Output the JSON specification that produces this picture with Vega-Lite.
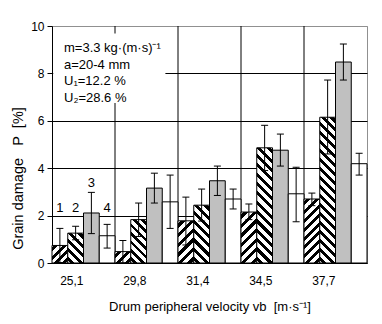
{
  "$schema": "https://vega.github.io/schema/vega-lite/v6.json",
  "width": 315,
  "height": 237,
  "autosize": {"type": "none"},
  "padding": {"left": 52, "top": 26, "right": 15, "bottom": 61},
  "background": "white",
  "config": {
    "view": {"stroke": "#909090", "strokeWidth": 1},
    "font": "Liberation Sans",
    "axis": {
      "labelFont": "Liberation Sans", "titleFont": "Liberation Sans",
      "labelColor": "black", "titleColor": "black", "titleFontWeight": "normal",
      "domainColor": "black", "tickColor": "black", "gridColor": "black", "gridOpacity": 1,
      "labelFontSize": 12, "titleFontSize": 13
    }
  },
  "datasets": {
    "bars": [
      {"c": "25,1", "s": "1", "v": 0.74, "lo": 0.02, "hi": 1.46},
      {"c": "25,1", "s": "2", "v": 1.26, "lo": 0.98, "hi": 1.55},
      {"c": "25,1", "s": "3", "v": 2.11, "lo": 1.24, "hi": 2.98},
      {"c": "25,1", "s": "4", "v": 1.15, "lo": 0.63, "hi": 1.63},
      {"c": "29,8", "s": "1", "v": 0.48, "lo": 0.01, "hi": 0.95},
      {"c": "29,8", "s": "2", "v": 1.83, "lo": 1.12, "hi": 2.53},
      {"c": "29,8", "s": "3", "v": 3.16, "lo": 2.53, "hi": 3.79},
      {"c": "29,8", "s": "4", "v": 2.58, "lo": 1.46, "hi": 3.71},
      {"c": "31,4", "s": "1", "v": 1.78, "lo": 0.76, "hi": 2.78},
      {"c": "31,4", "s": "2", "v": 2.44, "lo": 1.77, "hi": 3.12},
      {"c": "31,4", "s": "3", "v": 3.47, "lo": 2.85, "hi": 4.09},
      {"c": "31,4", "s": "4", "v": 2.70, "lo": 2.28, "hi": 3.12},
      {"c": "34,5", "s": "1", "v": 2.15, "lo": 1.83, "hi": 2.49},
      {"c": "34,5", "s": "2", "v": 4.86, "lo": 3.90, "hi": 5.81},
      {"c": "34,5", "s": "3", "v": 4.76, "lo": 4.09, "hi": 5.44},
      {"c": "34,5", "s": "4", "v": 2.92, "lo": 1.74, "hi": 4.04},
      {"c": "37,7", "s": "1", "v": 2.70, "lo": 2.42, "hi": 2.95},
      {"c": "37,7", "s": "2", "v": 6.15, "lo": 4.60, "hi": 7.72},
      {"c": "37,7", "s": "3", "v": 8.48, "lo": 7.72, "hi": 9.24},
      {"c": "37,7", "s": "4", "v": 4.19, "lo": 3.71, "hi": 4.63}
    ],
    "labs": [
      {"c": "25,1", "s": "1", "t": "1"},
      {"c": "25,1", "s": "2", "t": "2"},
      {"c": "25,1", "s": "4", "t": "4"}
    ],
    "lab3": [
      {"c": "25,1", "s": "3", "t": "3"}
    ],
    "bounds": [
      {"c": "29,8"}, {"c": "31,4"}, {"c": "34,5"}, {"c": "37,7"}
    ]
  },
  "layer": [
    {
      "data": {"name": "bounds"},
      "mark": {"type": "rule", "color": "black", "strokeWidth": 1},
      "encoding": {
        "x": {"field": "c", "type": "nominal", "bandPosition": 0}
      }
    },
    {
      "data": {"values": [{}]},
      "mark": {"type": "rect", "fill": "white"},
      "encoding": {
        "x": {"datum": "25,1", "type": "nominal", "bandPosition": 0.02},
        "x2": {"datum": "29,8", "bandPosition": 0.8},
        "y": {"datum": 9.68, "type": "quantitative"},
        "y2": {"datum": 6.75}
      }
    },
    {
      "data": {"name": "bars"},
      "mark": {"type": "bar", "stroke": "black", "strokeWidth": 1},
      "encoding": {
        "x": {
          "field": "c", "type": "nominal",
          "scale": {"paddingInner": 0, "paddingOuter": 0},
          "title": "Drum peripheral velocity vb\u00a0\u00a0[m·s⁻¹]",
          "axis": {"ticks": false, "labelAngle": 0, "labelPadding": 17, "titlePadding": 14, "grid": false, "domainColor": "black"}
        },
        "xOffset": {"field": "s", "type": "nominal", "scale": {"paddingInner": 0, "paddingOuter": 0}},
        "y": {
          "field": "v", "type": "quantitative",
          "scale": {"domain": [0, 10], "nice": false},
          "title": "Grain damage\u00a0\u00a0\u00a0P\u00a0\u00a0[%]",
          "axis": {
            "values": [0, 2, 4, 6, 8, 10], "grid": true,
            "gridColor": {"condition": {"test": "datum.value === 10", "value": "#909090"}, "value": "black"},
            "tickSize": 5, "labelPadding": 3, "titlePadding": 5, "titleY": 152, "titleFontSize": 14.5
          }
        },
        "fill": {
          "condition": [
            {"test": "datum.s === '1' && datum.c === '25,1'", "value": {"gradient": "linear", "x1": 0, "y1": 0, "x2": 0.9448, "y2": 1.0498, "stops": [
              {"offset": 0, "color": "#fff"},
              {"offset": 0.075, "color": "#fff"}, {"offset": 0.075, "color": "#000"}, {"offset": 0.1875, "color": "#000"}, {"offset": 0.1875, "color": "#fff"},
              {"offset": 0.325, "color": "#fff"}, {"offset": 0.325, "color": "#000"}, {"offset": 0.4375, "color": "#000"}, {"offset": 0.4375, "color": "#fff"},
              {"offset": 0.575, "color": "#fff"}, {"offset": 0.575, "color": "#000"}, {"offset": 0.6875, "color": "#000"}, {"offset": 0.6875, "color": "#fff"},
              {"offset": 0.825, "color": "#fff"}, {"offset": 0.825, "color": "#000"}, {"offset": 0.9375, "color": "#000"}, {"offset": 0.9375, "color": "#fff"},
              {"offset": 1, "color": "#fff"}]}},
            {"test": "datum.s === '1' && datum.c === '29,8'", "value": {"gradient": "linear", "x1": 0, "y1": 0, "x2": 1.1316, "y2": 0.8176, "stops": [
              {"offset": 0, "color": "#fff"},
              {"offset": 0.1, "color": "#fff"}, {"offset": 0.1, "color": "#000"}, {"offset": 0.25, "color": "#000"}, {"offset": 0.25, "color": "#fff"},
              {"offset": 0.4333, "color": "#fff"}, {"offset": 0.4333, "color": "#000"}, {"offset": 0.5833, "color": "#000"}, {"offset": 0.5833, "color": "#fff"},
              {"offset": 0.7667, "color": "#fff"}, {"offset": 0.7667, "color": "#000"}, {"offset": 0.9167, "color": "#000"}, {"offset": 0.9167, "color": "#fff"},
              {"offset": 1, "color": "#fff"}]}},
            {"test": "datum.s === '1' && datum.c === '31,4'", "value": {"gradient": "linear", "x1": 0, "y1": 0, "x2": 0.450, "y2": 1.2054, "stops": [
              {"offset": 0, "color": "#fff"},
              {"offset": 0.05, "color": "#fff"}, {"offset": 0.05, "color": "#000"}, {"offset": 0.125, "color": "#000"}, {"offset": 0.125, "color": "#fff"},
              {"offset": 0.2167, "color": "#fff"}, {"offset": 0.2167, "color": "#000"}, {"offset": 0.2917, "color": "#000"}, {"offset": 0.2917, "color": "#fff"},
              {"offset": 0.3833, "color": "#fff"}, {"offset": 0.3833, "color": "#000"}, {"offset": 0.4583, "color": "#000"}, {"offset": 0.4583, "color": "#fff"},
              {"offset": 0.55, "color": "#fff"}, {"offset": 0.55, "color": "#000"}, {"offset": 0.625, "color": "#000"}, {"offset": 0.625, "color": "#fff"},
              {"offset": 0.7167, "color": "#fff"}, {"offset": 0.7167, "color": "#000"}, {"offset": 0.7917, "color": "#000"}, {"offset": 0.7917, "color": "#fff"},
              {"offset": 0.8833, "color": "#fff"}, {"offset": 0.8833, "color": "#000"}, {"offset": 0.9583, "color": "#000"}, {"offset": 0.9583, "color": "#fff"},
              {"offset": 1, "color": "#fff"}]}},
            {"test": "datum.s === '1' && datum.c === '34,5'", "value": {"gradient": "linear", "x1": 0, "y1": 0, "x2": 0.3693, "y2": 1.1949, "stops": [
              {"offset": 0, "color": "#fff"},
              {"offset": 0.0429, "color": "#fff"}, {"offset": 0.0429, "color": "#000"}, {"offset": 0.1071, "color": "#000"}, {"offset": 0.1071, "color": "#fff"},
              {"offset": 0.1857, "color": "#fff"}, {"offset": 0.1857, "color": "#000"}, {"offset": 0.25, "color": "#000"}, {"offset": 0.25, "color": "#fff"},
              {"offset": 0.3286, "color": "#fff"}, {"offset": 0.3286, "color": "#000"}, {"offset": 0.3929, "color": "#000"}, {"offset": 0.3929, "color": "#fff"},
              {"offset": 0.4714, "color": "#fff"}, {"offset": 0.4714, "color": "#000"}, {"offset": 0.5357, "color": "#000"}, {"offset": 0.5357, "color": "#fff"},
              {"offset": 0.6143, "color": "#fff"}, {"offset": 0.6143, "color": "#000"}, {"offset": 0.6786, "color": "#000"}, {"offset": 0.6786, "color": "#fff"},
              {"offset": 0.7571, "color": "#fff"}, {"offset": 0.7571, "color": "#000"}, {"offset": 0.8214, "color": "#000"}, {"offset": 0.8214, "color": "#fff"},
              {"offset": 0.9, "color": "#fff"}, {"offset": 0.9, "color": "#000"}, {"offset": 0.9643, "color": "#000"}, {"offset": 0.9643, "color": "#fff"},
              {"offset": 1, "color": "#fff"}]}},
            {"test": "datum.s === '1' && datum.c === '37,7'", "value": {"gradient": "linear", "x1": 0, "y1": 0, "x2": 0.2892, "y2": 1.1749, "stops": [
              {"offset": 0, "color": "#fff"},
              {"offset": 0.0333, "color": "#fff"}, {"offset": 0.0333, "color": "#000"}, {"offset": 0.0833, "color": "#000"}, {"offset": 0.0833, "color": "#fff"},
              {"offset": 0.1444, "color": "#fff"}, {"offset": 0.1444, "color": "#000"}, {"offset": 0.1944, "color": "#000"}, {"offset": 0.1944, "color": "#fff"},
              {"offset": 0.2556, "color": "#fff"}, {"offset": 0.2556, "color": "#000"}, {"offset": 0.3056, "color": "#000"}, {"offset": 0.3056, "color": "#fff"},
              {"offset": 0.3667, "color": "#fff"}, {"offset": 0.3667, "color": "#000"}, {"offset": 0.4167, "color": "#000"}, {"offset": 0.4167, "color": "#fff"},
              {"offset": 0.4778, "color": "#fff"}, {"offset": 0.4778, "color": "#000"}, {"offset": 0.5278, "color": "#000"}, {"offset": 0.5278, "color": "#fff"},
              {"offset": 0.5889, "color": "#fff"}, {"offset": 0.5889, "color": "#000"}, {"offset": 0.6389, "color": "#000"}, {"offset": 0.6389, "color": "#fff"},
              {"offset": 0.7, "color": "#fff"}, {"offset": 0.7, "color": "#000"}, {"offset": 0.75, "color": "#000"}, {"offset": 0.75, "color": "#fff"},
              {"offset": 0.8111, "color": "#fff"}, {"offset": 0.8111, "color": "#000"}, {"offset": 0.8611, "color": "#000"}, {"offset": 0.8611, "color": "#fff"},
              {"offset": 0.9222, "color": "#fff"}, {"offset": 0.9222, "color": "#000"}, {"offset": 0.9722, "color": "#000"}, {"offset": 0.9722, "color": "#fff"},
              {"offset": 1, "color": "#fff"}]}},
            {"test": "datum.s === '2' && datum.c === '25,1'", "value": {"gradient": "linear", "x1": 0, "y1": 1, "x2": 0.6303, "y2": -0.195, "stops": [
              {"offset": 0, "color": "#fff"},
              {"offset": 0.06, "color": "#fff"}, {"offset": 0.06, "color": "#000"}, {"offset": 0.15, "color": "#000"}, {"offset": 0.15, "color": "#fff"},
              {"offset": 0.26, "color": "#fff"}, {"offset": 0.26, "color": "#000"}, {"offset": 0.35, "color": "#000"}, {"offset": 0.35, "color": "#fff"},
              {"offset": 0.46, "color": "#fff"}, {"offset": 0.46, "color": "#000"}, {"offset": 0.55, "color": "#000"}, {"offset": 0.55, "color": "#fff"},
              {"offset": 0.66, "color": "#fff"}, {"offset": 0.66, "color": "#000"}, {"offset": 0.75, "color": "#000"}, {"offset": 0.75, "color": "#fff"},
              {"offset": 0.86, "color": "#fff"}, {"offset": 0.86, "color": "#000"}, {"offset": 0.95, "color": "#000"}, {"offset": 0.95, "color": "#fff"},
              {"offset": 1, "color": "#fff"}]}},
            {"test": "datum.s === '2' && datum.c === '29,8'", "value": {"gradient": "linear", "x1": 0, "y1": 1, "x2": 0.4373, "y2": -0.2044, "stops": [
              {"offset": 0, "color": "#fff"},
              {"offset": 0.0429, "color": "#fff"}, {"offset": 0.0429, "color": "#000"}, {"offset": 0.1071, "color": "#000"}, {"offset": 0.1071, "color": "#fff"},
              {"offset": 0.1857, "color": "#fff"}, {"offset": 0.1857, "color": "#000"}, {"offset": 0.25, "color": "#000"}, {"offset": 0.25, "color": "#fff"},
              {"offset": 0.3286, "color": "#fff"}, {"offset": 0.3286, "color": "#000"}, {"offset": 0.3929, "color": "#000"}, {"offset": 0.3929, "color": "#fff"},
              {"offset": 0.4714, "color": "#fff"}, {"offset": 0.4714, "color": "#000"}, {"offset": 0.5357, "color": "#000"}, {"offset": 0.5357, "color": "#fff"},
              {"offset": 0.6143, "color": "#fff"}, {"offset": 0.6143, "color": "#000"}, {"offset": 0.6786, "color": "#000"}, {"offset": 0.6786, "color": "#fff"},
              {"offset": 0.7571, "color": "#fff"}, {"offset": 0.7571, "color": "#000"}, {"offset": 0.8214, "color": "#000"}, {"offset": 0.8214, "color": "#fff"},
              {"offset": 0.9, "color": "#fff"}, {"offset": 0.9, "color": "#000"}, {"offset": 0.9643, "color": "#000"}, {"offset": 0.9643, "color": "#fff"},
              {"offset": 1, "color": "#fff"}]}},
            {"test": "datum.s === '2' && datum.c === '31,4'", "value": {"gradient": "linear", "x1": 0, "y1": 1, "x2": 0.3226, "y2": -0.1846, "stops": [
              {"offset": 0, "color": "#fff"},
              {"offset": 0.0375, "color": "#fff"}, {"offset": 0.0375, "color": "#000"}, {"offset": 0.0938, "color": "#000"}, {"offset": 0.0938, "color": "#fff"},
              {"offset": 0.1625, "color": "#fff"}, {"offset": 0.1625, "color": "#000"}, {"offset": 0.2188, "color": "#000"}, {"offset": 0.2188, "color": "#fff"},
              {"offset": 0.2875, "color": "#fff"}, {"offset": 0.2875, "color": "#000"}, {"offset": 0.3438, "color": "#000"}, {"offset": 0.3438, "color": "#fff"},
              {"offset": 0.4125, "color": "#fff"}, {"offset": 0.4125, "color": "#000"}, {"offset": 0.4688, "color": "#000"}, {"offset": 0.4688, "color": "#fff"},
              {"offset": 0.5375, "color": "#fff"}, {"offset": 0.5375, "color": "#000"}, {"offset": 0.5938, "color": "#000"}, {"offset": 0.5938, "color": "#fff"},
              {"offset": 0.6625, "color": "#fff"}, {"offset": 0.6625, "color": "#000"}, {"offset": 0.7188, "color": "#000"}, {"offset": 0.7188, "color": "#fff"},
              {"offset": 0.7875, "color": "#fff"}, {"offset": 0.7875, "color": "#000"}, {"offset": 0.8438, "color": "#000"}, {"offset": 0.8438, "color": "#fff"},
              {"offset": 0.9125, "color": "#fff"}, {"offset": 0.9125, "color": "#000"}, {"offset": 0.9688, "color": "#000"}, {"offset": 0.9688, "color": "#fff"},
              {"offset": 1, "color": "#fff"}]}},
            {"test": "datum.s === '2' && datum.c === '34,5'", "value": {"gradient": "linear", "x1": 0, "y1": 1, "x2": 0.1526, "y2": -0.1159, "stops": [
              {"offset": 0, "color": "#fff"},
              {"offset": 0.0214, "color": "#fff"}, {"offset": 0.0214, "color": "#000"}, {"offset": 0.0536, "color": "#000"}, {"offset": 0.0536, "color": "#fff"},
              {"offset": 0.0929, "color": "#fff"}, {"offset": 0.0929, "color": "#000"}, {"offset": 0.125, "color": "#000"}, {"offset": 0.125, "color": "#fff"},
              {"offset": 0.1643, "color": "#fff"}, {"offset": 0.1643, "color": "#000"}, {"offset": 0.1964, "color": "#000"}, {"offset": 0.1964, "color": "#fff"},
              {"offset": 0.2357, "color": "#fff"}, {"offset": 0.2357, "color": "#000"}, {"offset": 0.2679, "color": "#000"}, {"offset": 0.2679, "color": "#fff"},
              {"offset": 0.3071, "color": "#fff"}, {"offset": 0.3071, "color": "#000"}, {"offset": 0.3393, "color": "#000"}, {"offset": 0.3393, "color": "#fff"},
              {"offset": 0.3786, "color": "#fff"}, {"offset": 0.3786, "color": "#000"}, {"offset": 0.4107, "color": "#000"}, {"offset": 0.4107, "color": "#fff"},
              {"offset": 0.45, "color": "#fff"}, {"offset": 0.45, "color": "#000"}, {"offset": 0.4821, "color": "#000"}, {"offset": 0.4821, "color": "#fff"},
              {"offset": 0.5214, "color": "#fff"}, {"offset": 0.5214, "color": "#000"}, {"offset": 0.5536, "color": "#000"}, {"offset": 0.5536, "color": "#fff"},
              {"offset": 0.5929, "color": "#fff"}, {"offset": 0.5929, "color": "#000"}, {"offset": 0.625, "color": "#000"}, {"offset": 0.625, "color": "#fff"},
              {"offset": 0.6643, "color": "#fff"}, {"offset": 0.6643, "color": "#000"}, {"offset": 0.6964, "color": "#000"}, {"offset": 0.6964, "color": "#fff"},
              {"offset": 0.7357, "color": "#fff"}, {"offset": 0.7357, "color": "#000"}, {"offset": 0.7679, "color": "#000"}, {"offset": 0.7679, "color": "#fff"},
              {"offset": 0.8071, "color": "#fff"}, {"offset": 0.8071, "color": "#000"}, {"offset": 0.8393, "color": "#000"}, {"offset": 0.8393, "color": "#fff"},
              {"offset": 0.8786, "color": "#fff"}, {"offset": 0.8786, "color": "#000"}, {"offset": 0.9107, "color": "#000"}, {"offset": 0.9107, "color": "#fff"},
              {"offset": 0.95, "color": "#fff"}, {"offset": 0.95, "color": "#000"}, {"offset": 0.9821, "color": "#000"}, {"offset": 0.9821, "color": "#fff"},
              {"offset": 1, "color": "#fff"}]}},
            {"test": "datum.s === '2' && datum.c === '37,7'", "value": {"gradient": "linear", "x1": 0, "y1": 1, "x2": 0.1183, "y2": -0.0953, "stops": [
              {"offset": 0, "color": "#fff"},
              {"offset": 0.0167, "color": "#fff"}, {"offset": 0.0167, "color": "#000"}, {"offset": 0.0417, "color": "#000"}, {"offset": 0.0417, "color": "#fff"},
              {"offset": 0.0722, "color": "#fff"}, {"offset": 0.0722, "color": "#000"}, {"offset": 0.0972, "color": "#000"}, {"offset": 0.0972, "color": "#fff"},
              {"offset": 0.1278, "color": "#fff"}, {"offset": 0.1278, "color": "#000"}, {"offset": 0.1528, "color": "#000"}, {"offset": 0.1528, "color": "#fff"},
              {"offset": 0.1833, "color": "#fff"}, {"offset": 0.1833, "color": "#000"}, {"offset": 0.2083, "color": "#000"}, {"offset": 0.2083, "color": "#fff"},
              {"offset": 0.2389, "color": "#fff"}, {"offset": 0.2389, "color": "#000"}, {"offset": 0.2639, "color": "#000"}, {"offset": 0.2639, "color": "#fff"},
              {"offset": 0.2944, "color": "#fff"}, {"offset": 0.2944, "color": "#000"}, {"offset": 0.3194, "color": "#000"}, {"offset": 0.3194, "color": "#fff"},
              {"offset": 0.35, "color": "#fff"}, {"offset": 0.35, "color": "#000"}, {"offset": 0.375, "color": "#000"}, {"offset": 0.375, "color": "#fff"},
              {"offset": 0.4056, "color": "#fff"}, {"offset": 0.4056, "color": "#000"}, {"offset": 0.4306, "color": "#000"}, {"offset": 0.4306, "color": "#fff"},
              {"offset": 0.4611, "color": "#fff"}, {"offset": 0.4611, "color": "#000"}, {"offset": 0.4861, "color": "#000"}, {"offset": 0.4861, "color": "#fff"},
              {"offset": 0.5167, "color": "#fff"}, {"offset": 0.5167, "color": "#000"}, {"offset": 0.5417, "color": "#000"}, {"offset": 0.5417, "color": "#fff"},
              {"offset": 0.5722, "color": "#fff"}, {"offset": 0.5722, "color": "#000"}, {"offset": 0.5972, "color": "#000"}, {"offset": 0.5972, "color": "#fff"},
              {"offset": 0.6278, "color": "#fff"}, {"offset": 0.6278, "color": "#000"}, {"offset": 0.6528, "color": "#000"}, {"offset": 0.6528, "color": "#fff"},
              {"offset": 0.6833, "color": "#fff"}, {"offset": 0.6833, "color": "#000"}, {"offset": 0.7083, "color": "#000"}, {"offset": 0.7083, "color": "#fff"},
              {"offset": 0.7389, "color": "#fff"}, {"offset": 0.7389, "color": "#000"}, {"offset": 0.7639, "color": "#000"}, {"offset": 0.7639, "color": "#fff"},
              {"offset": 0.7944, "color": "#fff"}, {"offset": 0.7944, "color": "#000"}, {"offset": 0.8194, "color": "#000"}, {"offset": 0.8194, "color": "#fff"},
              {"offset": 0.85, "color": "#fff"}, {"offset": 0.85, "color": "#000"}, {"offset": 0.875, "color": "#000"}, {"offset": 0.875, "color": "#fff"},
              {"offset": 0.9056, "color": "#fff"}, {"offset": 0.9056, "color": "#000"}, {"offset": 0.9306, "color": "#000"}, {"offset": 0.9306, "color": "#fff"},
              {"offset": 0.9611, "color": "#fff"}, {"offset": 0.9611, "color": "#000"}, {"offset": 0.9861, "color": "#000"}, {"offset": 0.9861, "color": "#fff"},
              {"offset": 1, "color": "#fff"}]}},
            {"test": "datum.s === '3'", "value": "#c0c0c0"}
          ],
          "value": "white"
        }
      }
    },
    {
      "data": {"name": "bars"},
      "mark": {"type": "rule", "color": "black", "strokeWidth": 1},
      "encoding": {
        "x": {"field": "c", "type": "nominal"},
        "xOffset": {"field": "s", "type": "nominal"},
        "y": {"field": "lo", "type": "quantitative"},
        "y2": {"field": "hi"}
      }
    },
    {
      "data": {"name": "bars"},
      "mark": {"type": "tick", "color": "black", "thickness": 1, "size": 7, "opacity": 1},
      "encoding": {
        "x": {"field": "c", "type": "nominal"},
        "xOffset": {"field": "s", "type": "nominal"},
        "y": {"field": "hi", "type": "quantitative"}
      }
    },
    {
      "data": {"name": "bars"},
      "mark": {"type": "tick", "color": "black", "thickness": 1, "size": 7, "opacity": 1},
      "encoding": {
        "x": {"field": "c", "type": "nominal"},
        "xOffset": {"field": "s", "type": "nominal"},
        "y": {"field": "lo", "type": "quantitative"}
      }
    },
    {
      "data": {"name": "labs"},
      "mark": {"type": "text", "fontSize": 13, "baseline": "middle", "align": "center", "color": "black"},
      "encoding": {
        "x": {"field": "c", "type": "nominal"},
        "xOffset": {"field": "s", "type": "nominal"},
        "y": {"datum": 2.33, "type": "quantitative"},
        "text": {"field": "t"}
      }
    },
    {
      "data": {"name": "lab3"},
      "mark": {"type": "text", "fontSize": 13, "baseline": "middle", "align": "center", "color": "black"},
      "encoding": {
        "x": {"field": "c", "type": "nominal"},
        "xOffset": {"field": "s", "type": "nominal"},
        "y": {"datum": 3.39, "type": "quantitative"},
        "text": {"field": "t"}
      }
    },
    {
      "data": {"values": [{}]},
      "mark": {"type": "text", "align": "left", "baseline": "top", "fontSize": 13, "lineHeight": 16.5, "dx": 12, "color": "black"},
      "encoding": {
        "x": {"datum": "25,1", "type": "nominal", "bandPosition": 0},
        "y": {"datum": 9.32, "type": "quantitative"},
        "text": {"value": ["m=3.3 kg·(m·s)⁻¹", "a=20-4 mm", "U₁=12.2 %", "U₂=28.6 %"]}
      }
    }
  ]
}
